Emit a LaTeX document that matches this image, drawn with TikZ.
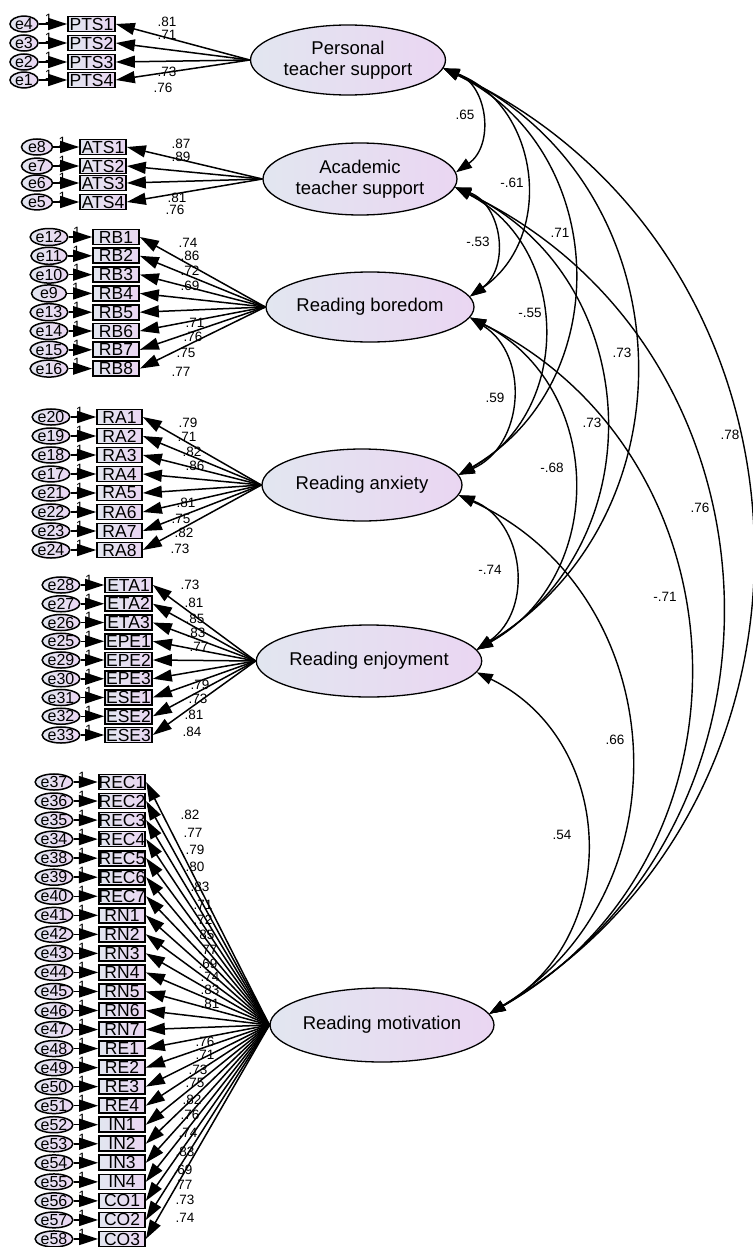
\documentclass[tikz,border=0pt]{standalone}
\usepackage{fontspec}
\setmainfont{Liberation Sans}
\usetikzlibrary{shapes.geometric, arrows.meta, positioning}

\definecolor{shadeL}{RGB}{226,230,240}
\definecolor{shadeR}{RGB}{234,214,242}

\tikzset{
  latent/.style={ellipse, draw, line width=1.3pt, left color=shadeL, right color=shadeR, inner sep=0pt, align=center, font=\fontsize{18.5}{21}\selectfont},
  obs/.style={rectangle, draw, line width=1.7pt, left color=shadeL, right color=shadeR, inner sep=0pt, minimum height=15pt, font=\fontsize{17.5}{17}\selectfont},
  err/.style={ellipse, draw, line width=1.5pt, left color=shadeL, right color=shadeR, inner sep=0pt, font=\fontsize{16}{16}\selectfont},
  load/.style={-{Triangle[length=19pt,width=12pt]}, line width=1.5pt},
  errpath/.style={-{Triangle[length=19pt,width=12pt]}, line width=1.5pt},
  cov/.style={{Triangle[length=16pt,width=11pt]}-{Triangle[length=16pt,width=11pt]}, line width=1.4pt, bend left=62, looseness=1.16},
  coef/.style={font=\fontsize{13.5}{14}\selectfont, inner sep=0pt},
}

\begin{document}
\begin{tikzpicture}[x=1pt, y=-1pt]
        \useasboundingbox (0,0) rectangle (752,1247);

        % Latent factors
        \node[latent, minimum width=195pt, minimum height=70pt] (pts) at (348,60) {Personal\\teacher support};
        \node[latent, minimum width=194pt, minimum height=72pt] (ats) at (360,179) {Academic\\teacher support};
        \node[latent, minimum width=200pt, minimum height=70pt] (rb) at (370,307) {Reading boredom};
        \node[latent, minimum width=200pt, minimum height=72pt] (ra) at (362,485) {Reading anxiety};
        \node[latent, minimum width=202pt, minimum height=72pt] (re) at (369,661) {Reading enjoyment};
        \node[latent, minimum width=198pt, minimum height=74pt] (rm) at (382,1025) {Reading motivation};

        % Personal teacher support items
        \foreach \ind/\err/\y/\val/\lx/\ly in {PTS1/e4/24/.81/167/22, PTS2/e3/43/.71/167/35, PTS3/e2/62/.73/167/72, PTS4/e1/80/.76/163/88}{
            \node[obs, minimum width=47pt] (\ind) at (91.5,\y) {\ind};
            \node[err, minimum width=28pt, minimum height=13pt] (\err) at (24,\y) {\err};
            \draw[errpath] (\err) -- node[coef, pos=.35, anchor=south] (one-\err) {1} (\ind);
            \draw[load] (pts.west) -- (\ind.east);
            \node[coef] (l-\ind) at (\lx,\ly) {\val};
        }

        % Academic teacher support items
        \foreach \ind/\err/\y/\val/\lx/\ly in {ATS1/e8/147/.87/181/144, ATS2/e7/166/.89/181/157, ATS3/e6/183/.81/177/198, ATS4/e5/202/.76/175/210}{
            \node[obs, minimum width=46pt] (\ind) at (103,\y) {\ind};
            \node[err, minimum width=31pt, minimum height=14pt] (\err) at (37,\y) {\err};
            \draw[errpath] (\err) -- node[coef, pos=.35, anchor=south] (one-\err) {1} (\ind);
            \draw[load] (ats.west) -- (\ind.east);
            \node[coef] (l-\ind) at (\lx,\ly) {\val};
        }

        % Reading boredom items
        \foreach \ind/\err/\val/\lx/\ly [count=\i from 0] in {RB1/e12/.74/188/243, RB2/e11/.86/190/256, RB3/e10/.72/190/271, RB4/e9/.69/190/286, RB5/e13/.71/195/323, RB6/e14/.76/193/337, RB7/e15/.75/186/353, RB8/e16/.77/181/372}{
            \node[obs, minimum width=46pt] (\ind) at (116,{237+18.8*\i}) {\ind};
            \node[err, minimum width=35pt, minimum height=17pt] (\err) at (49,{237+18.8*\i}) {\err};
            \draw[errpath] (\err) -- node[coef, pos=.35, anchor=south] (one-\err) {1} (\ind);
            \draw[load] (rb.west) -- (\ind.east);
            \node[coef] (l-\ind) at (\lx,\ly) {\val};
        }

        % Reading anxiety items
        \foreach \ind/\err/\val/\lx/\ly [count=\i from 0] in {RA1/e20/.79/188/423, RA2/e19/.71/187/437, RA3/e18/.82/192/452, RA4/e17/.86/195/466, RA5/e21/.81/186/503, RA6/e22/.75/181/519, RA7/e23/.82/184/533, RA8/e24/.73/180/549}{
            \node[obs, minimum width=45pt] (\ind) at (119.5,{417+19*\i}) {\ind};
            \node[err, minimum width=37pt, minimum height=14pt] (\err) at (51,{417+19*\i}) {\err};
            \draw[errpath] (\err) -- node[coef, pos=.35, anchor=south] (one-\err) {1} (\ind);
            \draw[load] (ra.west) -- (\ind.east);
            \node[coef] (l-\ind) at (\lx,\ly) {\val};
        }

        % Reading enjoyment items
        \foreach \ind/\err/\val/\lx/\ly [count=\i from 0] in {ETA1/e28/.73/190/585, ETA2/e27/.81/194/603, ETA3/e26/.85/195/619, EPE1/e25/.83/196/633, EPE2/e29/.77/199/647, EPE3/e30/.79/200/685, ESE1/e31/.73/198/699, ESE2/e32/.81/194/715, ESE3/e33/.84/192/732}{
            \node[obs, minimum width=47pt] (\ind) at (128.5,{585+18.75*\i}) {\ind};
            \node[err, minimum width=35pt, minimum height=14pt] (\err) at (61,{585+18.75*\i}) {\err};
            \draw[errpath] (\err) -- node[coef, pos=.35, anchor=south] (one-\err) {1} (\ind);
            \draw[load] (re.west) -- (\ind.east);
            \node[coef] (l-\ind) at (\lx,\ly) {\val};
        }

        % Reading motivation items
        \foreach \ind/\err/\val/\lx/\ly [count=\i from 0] in {REC1/e37/.82/190/815, REC2/e36/.77/193/833, REC3/e35/.79/195/850, REC4/e34/.80/195/867, REC5/e38/.83/200/887, REC6/e39/.71/203/905, REC7/e40/.72/203/920, RN1/e41/.85/205/935, RN2/e42/.77/208/950, RN3/e43/.69/208/964, RN4/e44/.74/210/977, RN5/e45/.83/210/990, RN6/e46/.81/210/1004, RN7/e47/.76/205/1042, RE1/e48/.71/205/1055, RE2/e49/.73/198/1070, RE3/e50/.75/195/1083, RE4/e51/.82/192/1100, IN1/e52/.76/190/1115, IN2/e53/.74/188/1133, IN3/e54/.83/185/1152, IN4/e55/.69/183/1170, CO1/e56/.77/183/1185, CO2/e57/.73/185/1200, CO3/e58/.74/185/1218}{
            \node[obs, minimum width=46pt] (\ind) at (122,{782+19.04*\i}) {\ind};
            \node[err, minimum width=32pt, minimum height=14pt] (\err) at (54,{782+19.04*\i}) {\err};
            \draw[errpath] (\err) -- node[coef, pos=.35, anchor=south] (one-\err) {1} (\ind);
            \draw[load] (rm.west) -- (\ind.east);
            \node[coef] (l-\ind) at (\lx,\ly) {\val};
        }

        % Covariances
        \draw[cov] (pts.-5) to (ats.4);
        \draw[cov] (pts.-5) to (rb.6);
        \draw[cov] (pts.-5) to (ra.6);
        \draw[cov] (pts.-5) to (re.6);
        \draw[cov] (pts.-5) to (rm.6);
        \draw[cov] (ats.-5) to (rb.6);
        \draw[cov] (ats.-5) to (ra.6);
        \draw[cov] (ats.-5) to (re.6);
        \draw[cov] (ats.-5) to (rm.6);
        \draw[cov] (rb.-6) to (ra.6);
        \draw[cov] (rb.-6) to (re.6);
        \draw[cov] (rb.-6) to (rm.6);
        \draw[cov] (ra.-6) to (re.6);
        \draw[cov] (ra.-6) to (rm.6);
        \draw[cov] (re.-6) to (rm.6);

        % Correlation values
        \node[coef] (c-pts-ats) at (465,115) {.65};
        \node[coef] (c-pts-rb) at (512,183) {-.61};
        \node[coef] (c-pts-ra) at (560,233) {.71};
        \node[coef] (c-pts-re) at (622,353) {.73};
        \node[coef] (c-pts-rm) at (730,435) {.78};
        \node[coef] (c-ats-rb) at (478,242) {-.53};
        \node[coef] (c-ats-ra) at (530,313) {-.55};
        \node[coef] (c-ats-re) at (592,423) {.73};
        \node[coef] (c-ats-rm) at (700,508) {.76};
        \node[coef] (c-rb-ra) at (495,398) {.59};
        \node[coef] (c-rb-re) at (552,468) {-.68};
        \node[coef] (c-rb-rm) at (665,597) {-.71};
        \node[coef] (c-ra-re) at (490,570) {-.74};
        \node[coef] (c-ra-rm) at (615,740) {.66};
        \node[coef] (c-re-rm) at (562,835) {.54};
    \end{tikzpicture}
\end{document}
